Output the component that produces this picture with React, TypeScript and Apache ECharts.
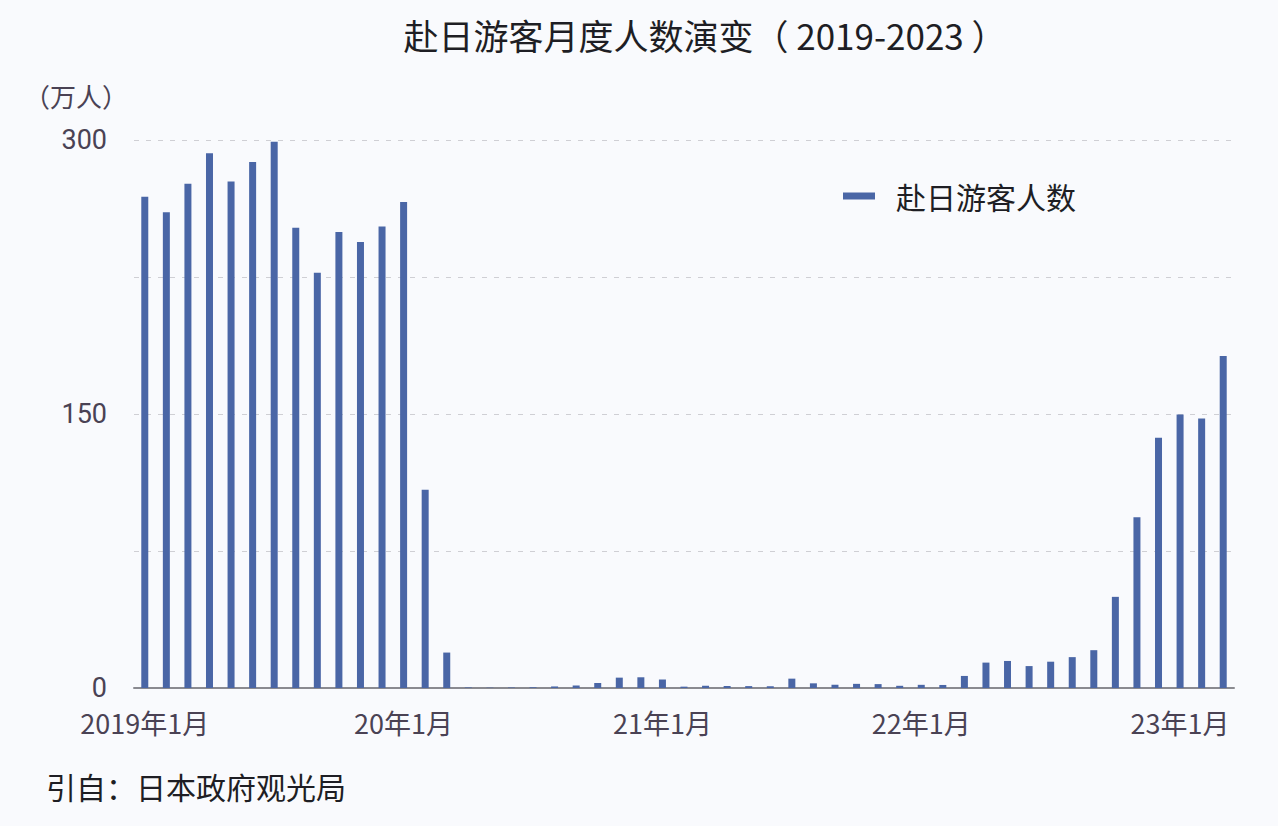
import React, { useEffect, useRef } from "react";
import * as echarts from "echarts";

const months: string[] = [];
for (const y of [2019, 2020, 2021, 2022, 2023]) {
  const last = y === 2023 ? 3 : 12;
  for (let m = 1; m <= last; m++) months.push(`${y}-${m}`);
}

const values2019 = [268.9, 260.4, 276.1, 292.7, 277.3, 288.0, 299.1, 252.0, 227.3, 249.7, 244.1, 252.6];
const values2020 = [266.1, 108.5, 19.4, 0.29, 0.17, 0.26, 0.39, 0.85, 1.37, 2.74, 5.67, 5.87];
const values2021 = [4.65, 0.74, 1.23, 1.09, 1.04, 0.96, 5.12, 2.56, 1.78, 2.27, 2.13, 1.21];
const values2022 = [1.74, 1.66, 6.6, 13.9, 14.8, 12.0, 14.4, 16.9, 20.7, 49.9, 93.5, 137.0];
const values2023 = [149.7, 147.5, 181.7];
const visitors = [...values2019, ...values2020, ...values2021, ...values2022, ...values2023];

const januaryLabels: Record<string, string> = {
  "2019-1": "2019年1月",
  "2020-1": "20年1月",
  "2021-1": "21年1月",
  "2022-1": "22年1月",
  "2023-1": "23年1月",
};
const yTickLabels: Record<number, string> = { 0: "0", 150: "150", 300: "300" };

const FONT = '"Noto Sans CJK SC", "Noto Sans", sans-serif';

export default function App() {
  const ref = useRef<HTMLDivElement>(null);
  useEffect(() => {
    document.body.style.margin = "0";
    const chart = echarts.init(ref.current!, null, { renderer: "svg" });
    chart.setOption({
      animation: false,
      backgroundColor: "#f9fafd",
      textStyle: { fontFamily: FONT },
      title: {
        text: "赴日游客月度人数演变（ 2019-2023 ）",
        left: 700,
        textAlign: "center",
        top: 12,
        textStyle: { fontSize: 35, fontWeight: "normal", color: "#1e1e24", fontFamily: FONT },
      },
      legend: {
        left: 838,
        top: 176,
        icon: "rect",
        itemWidth: 32,
        itemHeight: 7,
        textStyle: { fontSize: 30, color: "#1e1e24", padding: [0, 0, 0, 16], fontFamily: FONT },
        data: ["赴日游客人数"],
      },
      grid: { left: 134, right: 44, top: 140, bottom: 138, containLabel: false },
      xAxis: {
        type: "category",
        data: months,
        boundaryGap: true,
        axisLine: { lineStyle: { color: "#8a8a90", width: 2 } },
        axisTick: {
          alignWithLabel: true,
          length: 9,
          lineStyle: { color: "#8a8a90", width: 1 },
          interval: (_i: number, v: string) => v in januaryLabels,
        },
        axisLabel: {
          interval: (_i: number, v: string) => v in januaryLabels,
          formatter: (v: string) => januaryLabels[v] ?? "",
          fontSize: 27,
          lineHeight: 27,
          color: "#4a4254",
          margin: 21,
          fontFamily: FONT,
        },
      },
      yAxis: {
        type: "value",
        min: 0,
        max: 300,
        interval: 75,
        axisLine: { show: false },
        axisTick: { show: false },
        splitLine: { lineStyle: { color: "#cfcfd4", type: [5, 7], width: 1 } },
        axisLabel: {
          formatter: (v: number) => yTickLabels[v] ?? "",
          fontSize: 27,
          lineHeight: 24,
          color: "#4a4254",
          margin: 27,
          fontFamily: 'Roboto, "Noto Sans", sans-serif',
        },
      },
      graphic: [
        {
          type: "text",
          left: 24,
          top: 82,
          style: { text: "（万人）", fontSize: 26, fill: "#4a4254", fontFamily: FONT },
        },
        {
          type: "text",
          left: 46,
          top: 771,
          style: { text: "引自：日本政府观光局", fontSize: 30, fill: "#1e1e24", fontFamily: FONT },
        },
      ],
      series: [
        {
          name: "赴日游客人数",
          type: "bar",
          data: visitors,
          barWidth: 7,
          itemStyle: { color: "#4a66a6" },
        },
      ],
    });
    return () => chart.dispose();
  }, []);
  return <div ref={ref} style={{ width: 1278, height: 826 }} />;
}
